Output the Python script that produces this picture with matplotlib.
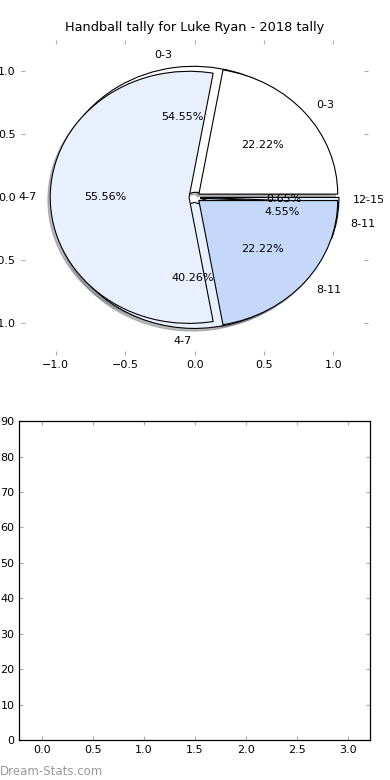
import matplotlib
matplotlib.use('Agg')
import matplotlib.pyplot as plt

# data (counts behind the shown percentages)
groups_a = ['0-3', '4-7', '8-11']
counts_a = [2, 5, 2]
groups_b = ['0-3', '4-7', '8-11', '12-15']
counts_b = [84, 62, 7, 1]
pie_colors = ['#ffffff', '#e9f0fd', '#c5d8fa', '#dde8fb']

title = 'Handball tally for Luke Ryan - 2018 tally'
pie_ticks = [-1.0, -0.5, 0.0, 0.5, 1.0]
bar_xticks = [0.0, 0.5, 1.0, 1.5, 2.0, 2.5, 3.0]
bar_yticks = [0, 10, 20, 30, 40, 50, 60, 70, 80, 90]

fig = plt.figure(figsize=(3.9, 7.8), dpi=100)

# top: two pies drawn on the same axes
ax = fig.add_axes([0.054, 0.545, 0.89, 0.404])
wedge_kw = {'edgecolor': 'black', 'linewidth': 0.8}
shadow_kw = {'ox': -0.012, 'oy': -0.015, 'shade': 0.5}
ax.pie(counts_b, labels=groups_b, colors=pie_colors, explode=[0.04] * len(counts_b),
       autopct='%.2f%%', shadow=shadow_kw, startangle=0, wedgeprops=wedge_kw,
       textprops={'fontsize': 8})
ax.pie(counts_a, labels=groups_a, colors=pie_colors[:3], explode=[0.04] * len(counts_a),
       autopct='%.2f%%', shadow=shadow_kw, startangle=0, wedgeprops=wedge_kw,
       textprops={'fontsize': 8})
ax.set_aspect('auto')
ax.set_xlim(-1.25, 1.25)
ax.set_ylim(-1.25, 1.25)
ax.set_xticks(pie_ticks)
ax.set_yticks(pie_ticks)
ax.tick_params(direction='in', length=3, color='#aaaaaa', labelsize=8,
               top=True, right=True, pad=4)
ax.set_title(title, fontsize=9.3, pad=6)

# bottom: empty axes
ax2 = fig.add_axes([0.0496, 0.0513, 0.8994, 0.4087])
ax2.set_xlim(-0.22, 3.22)
ax2.set_ylim(0, 90)
ax2.set_xticks(bar_xticks)
ax2.set_yticks(bar_yticks)
ax2.tick_params(direction='in', length=3, color='#aaaaaa', labelsize=8,
                top=True, right=True)
for sp in ax2.spines.values():
    sp.set_linewidth(0.9)

fig.text(0.0, 0.007, 'Dream-Stats.com', fontsize=8.5, color='#999999')

fig.savefig('out.png', dpi=100)
